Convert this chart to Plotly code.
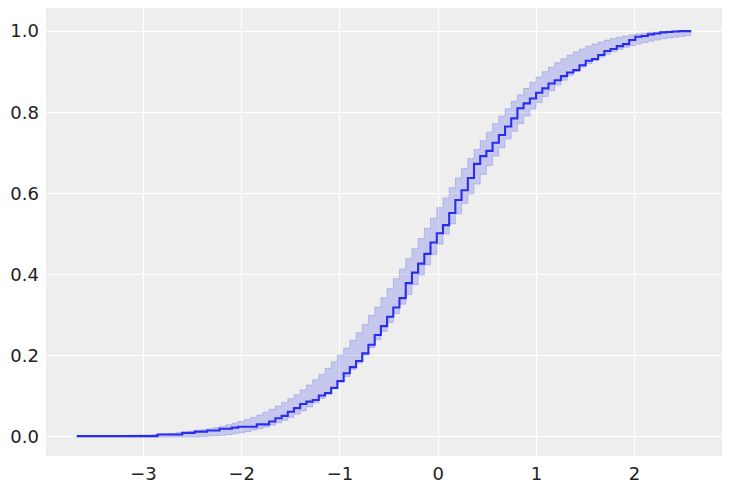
import plotly.graph_objs as go

# evaluation grid of the ECDF
x_vals = [
    -3.680, -3.617, -3.554, -3.490, -3.427, -3.364, -3.301, -3.238, -3.174, -3.111,
    -3.048, -2.985, -2.922, -2.858, -2.795, -2.732, -2.669, -2.606, -2.542, -2.479,
    -2.416, -2.353, -2.290, -2.226, -2.163, -2.100, -2.037, -1.974, -1.910, -1.847,
    -1.784, -1.721, -1.658, -1.594, -1.531, -1.468, -1.405, -1.342, -1.278, -1.215,
    -1.152, -1.089, -1.026, -0.962, -0.899, -0.836, -0.773, -0.710, -0.646, -0.583,
    -0.520, -0.457, -0.394, -0.330, -0.267, -0.204, -0.141, -0.078, -0.014, 0.049,
    0.112, 0.175, 0.238, 0.302, 0.365, 0.428, 0.491, 0.554, 0.618, 0.681,
    0.744, 0.807, 0.870, 0.934, 0.997, 1.060, 1.123, 1.186, 1.250, 1.313,
    1.376, 1.439, 1.502, 1.566, 1.629, 1.692, 1.755, 1.818, 1.882, 1.945,
    2.008, 2.071, 2.134, 2.198, 2.261, 2.324, 2.387, 2.450, 2.514, 2.577,
]

ecdf = [
    0.002, 0.002, 0.002, 0.002, 0.002, 0.002, 0.002, 0.002, 0.002, 0.002,
    0.002, 0.002, 0.002, 0.002, 0.006, 0.006, 0.006, 0.006, 0.010, 0.010,
    0.013, 0.013, 0.016, 0.016, 0.020, 0.020, 0.023, 0.025, 0.025, 0.025,
    0.031, 0.031, 0.038, 0.046, 0.052, 0.062, 0.071, 0.081, 0.087, 0.091,
    0.102, 0.108, 0.121, 0.138, 0.157, 0.172, 0.187, 0.206, 0.227, 0.251,
    0.273, 0.296, 0.319, 0.342, 0.379, 0.405, 0.427, 0.451, 0.479, 0.502,
    0.522, 0.552, 0.584, 0.608, 0.638, 0.673, 0.692, 0.705, 0.725, 0.744,
    0.765, 0.785, 0.810, 0.822, 0.834, 0.848, 0.859, 0.871, 0.879, 0.889,
    0.898, 0.904, 0.916, 0.927, 0.931, 0.941, 0.951, 0.956, 0.963, 0.968,
    0.978, 0.986, 0.988, 0.992, 0.994, 0.997, 0.998, 0.999, 1.000, 1.000,
]

band_lower = [
    0.000, 0.000, 0.000, 0.000, 0.000, 0.000, 0.000, 0.000, 0.000, 0.000,
    0.000, 0.000, 0.000, 0.000, 0.000, 0.000, 0.000, 0.000, 0.000, 0.000,
    0.000, 0.001, 0.002, 0.003, 0.004, 0.006, 0.008, 0.010, 0.013, 0.017,
    0.020, 0.024, 0.029, 0.035, 0.041, 0.048, 0.056, 0.064, 0.074, 0.084,
    0.095, 0.107, 0.120, 0.134, 0.149, 0.166, 0.182, 0.201, 0.220, 0.240,
    0.260, 0.282, 0.304, 0.327, 0.351, 0.375, 0.399, 0.424, 0.449, 0.475,
    0.500, 0.525, 0.550, 0.575, 0.599, 0.623, 0.647, 0.669, 0.692, 0.713,
    0.734, 0.753, 0.772, 0.791, 0.808, 0.824, 0.839, 0.853, 0.867, 0.879,
    0.891, 0.901, 0.911, 0.920, 0.928, 0.936, 0.943, 0.949, 0.955, 0.960,
    0.964, 0.968, 0.972, 0.975, 0.978, 0.981, 0.983, 0.985, 0.987, 0.989,
]

band_upper = [
    0.001, 0.001, 0.0015, 0.0015, 0.002, 0.002, 0.0025, 0.003, 0.003, 0.004,
    0.004, 0.005, 0.005, 0.006, 0.007, 0.008, 0.009, 0.011, 0.012, 0.014,
    0.016, 0.018, 0.020, 0.023, 0.026, 0.030, 0.034, 0.038, 0.043, 0.048,
    0.054, 0.061, 0.068, 0.076, 0.085, 0.094, 0.104, 0.116, 0.128, 0.141,
    0.154, 0.169, 0.185, 0.202, 0.219, 0.238, 0.257, 0.277, 0.299, 0.320,
    0.343, 0.366, 0.390, 0.414, 0.439, 0.464, 0.489, 0.514, 0.539, 0.565,
    0.589, 0.614, 0.638, 0.662, 0.686, 0.708, 0.730, 0.751, 0.772, 0.791,
    0.809, 0.827, 0.843, 0.859, 0.874, 0.887, 0.900, 0.911, 0.922, 0.932,
    0.941, 0.949, 0.956, 0.963, 0.968, 0.973, 0.978, 0.982, 0.985, 0.988,
    0.991, 0.993, 0.995, 0.997, 0.998, 0.999, 1.000, 1.000, 1.000, 1.000,
]

y_ticks = [0.0, 0.2, 0.4, 0.6, 0.8, 1.0]
x_ticks = [-3, -2, -1, 0, 1, 2]

line_color = '#2a2eec'
band_color = 'rgba(42,46,236,0.2)'

data = [
    go.Scatter(x=x_vals, y=band_lower, mode='lines', line=dict(color=band_color, width=1, shape='vh'),
               showlegend=False, hoverinfo='skip'),
    go.Scatter(x=x_vals, y=band_upper, mode='lines', line=dict(color=band_color, width=1, shape='vh'),
               fill='tonexty', fillcolor=band_color, showlegend=False, hoverinfo='skip'),
    go.Scatter(x=x_vals, y=ecdf, mode='lines', line=dict(color=line_color, width=2.1, shape='vh'),
               showlegend=False),
]

layout = go.Layout(
    width=731,
    height=491,
    margin=dict(l=46, r=9, t=8, b=35, autoexpand=False),
    paper_bgcolor='white',
    plot_bgcolor='#eeeeee',
    font=dict(family='DejaVu Sans', size=18, color='#222222'),
    xaxis=dict(range=[-3.993, 2.890], tickvals=x_ticks, showgrid=True, gridcolor='white', gridwidth=1,
               zeroline=False, showline=False, ticks='', ticklabelstandoff=5),
    yaxis=dict(range=[-0.047, 1.057], tickvals=y_ticks, tickformat='.1f', showgrid=True, gridcolor='white',
               gridwidth=1, zeroline=False, showline=False, ticks='', ticklabelstandoff=6),
)

fig = go.Figure(data=data, layout=layout)
# drop the default page margin so the figure sits at the window's corner
fig.write_html("out.html", config={'displayModeBar': False},
               post_script="document.body.style.margin = '0';")
